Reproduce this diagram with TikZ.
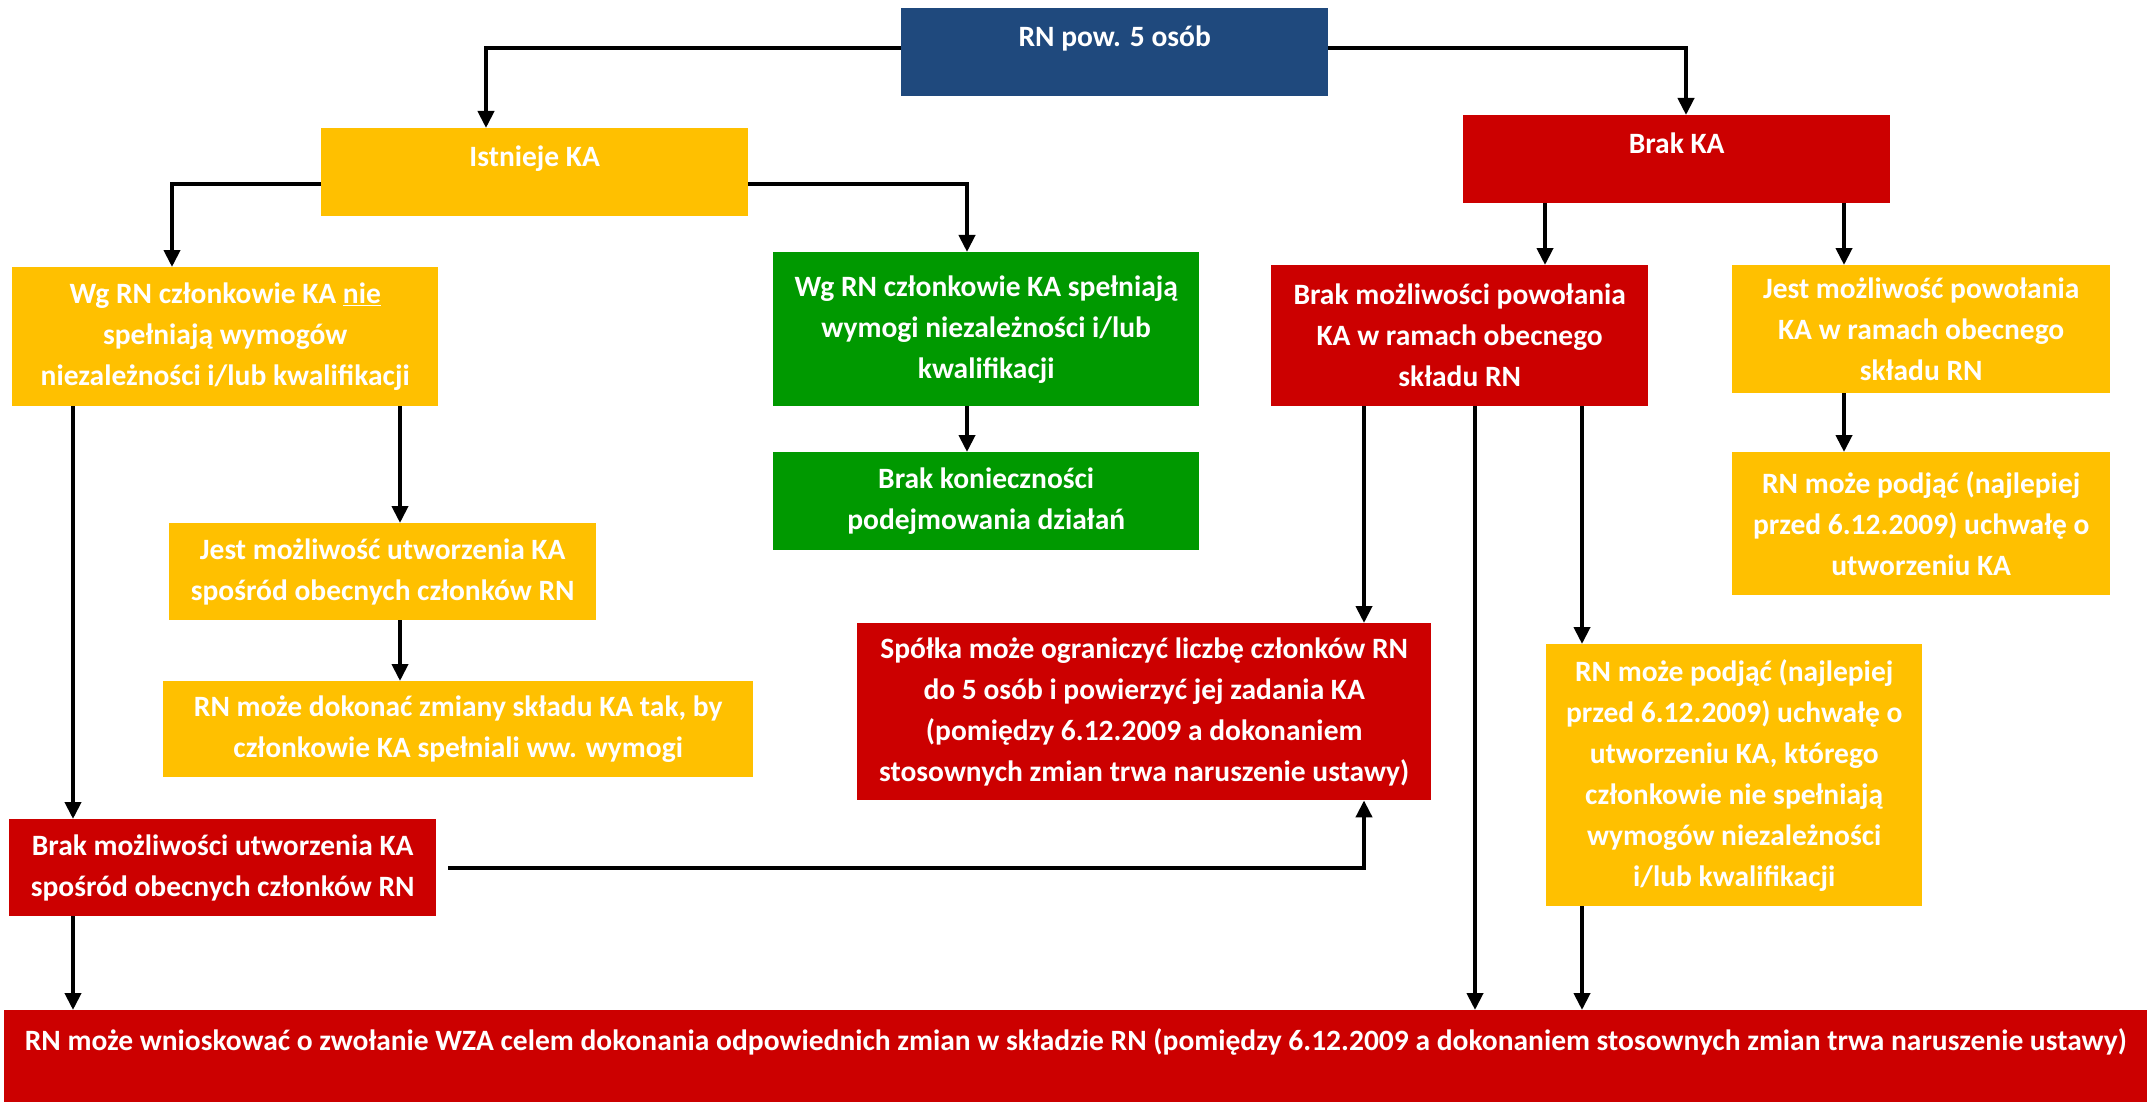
\documentclass[tikz,border=0pt]{standalone}
\usepackage{fontspec}
\setmainfont{Carlito}
\usepackage{tikz}
\usetikzlibrary{arrows.meta}

\definecolor{granat}{HTML}{1F497D}
\definecolor{zloty}{HTML}{FFC000}
\definecolor{czerwony}{HTML}{CC0000}
\definecolor{zielony}{HTML}{009900}

\begin{document}
\begin{tikzpicture}[x=1pt, y=-1pt,
        blok/.style={rectangle, fill=#1, text=white, align=center, inner sep=0pt, anchor=north west},
        strz/.style={line width=4pt, -{Triangle[length=17pt,width=16pt]}},
        font=\fontsize{29.5}{41}\selectfont\bfseries]
    \useasboundingbox (0,0) rectangle (2147,1102);

    % Top level
    \node[blok=granat, minimum width=427pt, minimum height=88pt] (rn) at (901,8) {RN pow. 5 osób\\[-8pt]~};
    \node[blok=zloty, minimum width=427pt, minimum height=88pt] (ist) at (321,128) {Istnieje KA\\[-8pt]~};
    \node[blok=czerwony, minimum width=427pt, minimum height=88pt] (brak) at (1463,115) {Brak KA\\[-8pt]~};

    % Istnieje KA branch
    \node[blok=zloty, minimum width=426pt, minimum height=139pt] (wgnie) at (12,267)
        {Wg RN członkowie KA \underline{nie}\\spełniają wymogów\\niezależności i/lub kwalifikacji};
    \node[blok=zielony, minimum width=426pt, minimum height=154pt] (wgtak) at (773,252)
        {Wg RN członkowie KA spełniają\\wymogi niezależności i/lub\\kwalifikacji};
    \node[blok=zielony, minimum width=426pt, minimum height=98pt] (brakkon) at (773,452)
        {Brak konieczności\\podejmowania działań};
    \node[blok=zloty, minimum width=427pt, minimum height=97pt] (jestutw) at (169,523)
        {Jest możliwość utworzenia KA\\spośród obecnych członków RN};
    \node[blok=zloty, minimum width=590pt, minimum height=96pt] (zmiana) at (163,681)
        {RN może dokonać zmiany składu KA tak, by\\członkowie KA spełniali ww. wymogi};
    \node[blok=czerwony, minimum width=427pt, minimum height=97pt] (brakutw) at (9,819)
        {Brak możliwości utworzenia KA\\spośród obecnych członków RN};

    % Brak KA branch
    \node[blok=czerwony, minimum width=377pt, minimum height=141pt] (brakpow) at (1271,265)
        {Brak możliwości powołania\\KA w ramach obecnego\\składu RN};
    \node[blok=zloty, minimum width=378pt, minimum height=128pt] (jestpow) at (1732,265)
        {Jest możliwość powołania\\KA w ramach obecnego\\składu RN};
    \node[blok=zloty, minimum width=378pt, minimum height=143pt] (podjac1) at (1732,452)
        {RN może podjąć (najlepiej\\przed 6.12.2009) uchwałę o\\utworzeniu KA};
    \node[blok=czerwony, minimum width=574pt, minimum height=177pt] (spolka) at (857,623)
        {Spółka może ograniczyć liczbę członków RN\\do 5 osób i powierzyć jej zadania KA\\(pomiędzy 6.12.2009 a dokonaniem\\stosownych zmian trwa naruszenie ustawy)};
    \node[blok=zloty, minimum width=376pt, minimum height=262pt] (podjac2) at (1546,644)
        {RN może podjąć (najlepiej\\przed 6.12.2009) uchwałę o\\utworzeniu KA, którego\\członkowie nie spełniają\\wymogów niezależności\\i/lub kwalifikacji};

    % Bottom
    \node[blok=czerwony, minimum width=2143pt, minimum height=92pt] (wza) at (4,1010)
        {RN może wnioskować o zwołanie WZA celem dokonania odpowiednich zmian w składzie RN (pomiędzy 6.12.2009 a dokonaniem stosownych zmian trwa naruszenie ustawy)\\[-8pt]~};

    % Elbow arrows
    \draw[strz] (rn.west |- 0,48) -| (ist.north -| 486,0);
    \draw[strz] (rn.east |- 0,48) -| (brak.north -| 1686,0);
    \draw[strz] (ist.west |- 0,184) -| (wgnie.north -| 172,0);
    \draw[strz] (ist.east |- 0,184) -| (wgtak.north -| 967,0);
    \draw[strz] (448,0 |- brakutw.east) -| (spolka.south -| 1364,0);

    % Vertical arrows
    \foreach \src/\dst/\x in {brak/brakpow/1545, brak/jestpow/1844, wgnie/brakutw/73,
            wgnie/jestutw/400, jestutw/zmiana/400, wgtak/brakkon/967, brakpow/spolka/1364,
            brakpow/wza/1475, brakpow/podjac2/1582, podjac2/wza/1582, jestpow/podjac1/1844,
            brakutw/wza/73}
        \draw[strz] (\src.south -| \x,0) -- (\dst.north -| \x,0);
\end{tikzpicture}
\end{document}
